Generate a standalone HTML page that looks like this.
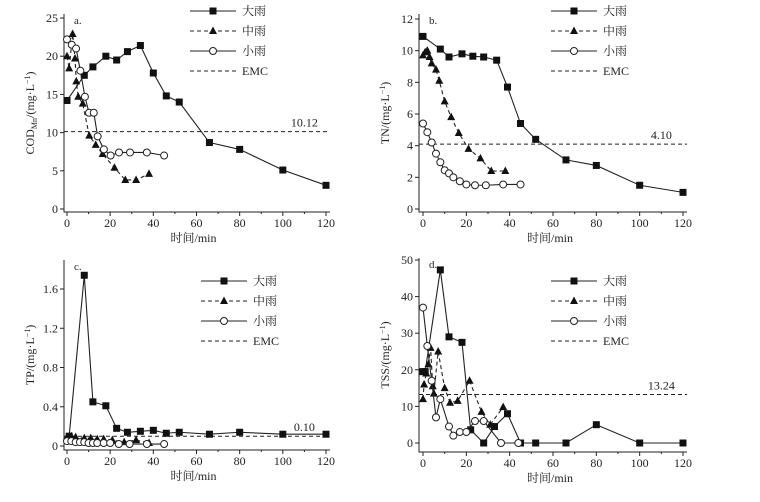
<!DOCTYPE html>
<html><head><meta charset="utf-8"><style>
body{margin:0;background:#fff}
svg text{font-family:"Liberation Serif","Noto Serif CJK SC",serif;fill:#222}
</style></head><body>
<svg id="c" width="760" height="497" viewBox="0 0 760 497"></svg>
<script>
const timeTicks=[0,20,40,60,80,100,120];
const heavyA_x=[0,8,12,18,23,28,34,40,46,52,66,80,100,120];
const heavyA_y=[14.2,17.5,18.6,20,19.5,20.6,21.4,17.8,14.8,14,8.7,7.8,5.1,3.1];
const modA_x=[0,1,2.6,3.7,4.3,5.2,7.3,10.3,13.3,16.5,22,27,32,38];
const modA_y=[20,18.4,22.9,19.7,16.7,14.7,13.8,9.6,8.4,7.2,5.4,3.8,3.8,4.6];
const lightA_x=[0,2.2,4.2,6.2,8.3,10.2,12.4,14.2,17.1,20.2,24.1,29.2,37,45];
const lightA_y=[22.2,21.5,21,18.1,14.7,12.6,12.6,9.5,7.8,7,7.4,7.4,7.4,7];
const heavyB_x=[0,8,12,18,23,28,34,39,45,52,66,80,100,120];
const heavyB_y=[10.9,10.1,9.6,9.8,9.65,9.6,9.4,7.7,5.4,4.4,3.1,2.75,1.5,1.05];
const modB_x=[0,1,2,3,4,6,7.5,10,13,16.5,21,26.5,31.5,38];
const modB_y=[9.7,9.9,10,9.6,9.2,8.8,8.1,6.8,5.8,4.8,3.8,3.2,2.4,2.4];
const lightB_x=[0,2,4,6,8,10,12,14,17,20,24,29,37,45];
const lightB_y=[5.4,4.85,4.2,3.5,2.95,2.45,2.25,2,1.75,1.55,1.5,1.5,1.55,1.55];
const heavyC_x=[1,8,12,18,23,28,34,40,46,52,66,80,100,120];
const heavyC_y=[0.1,1.74,0.45,0.41,0.18,0.14,0.15,0.16,0.13,0.14,0.12,0.14,0.12,0.12];
const modC_x=[0,2,4,8,11,14,17,21,26.5,32,38];
const modC_y=[0.09,0.1,0.09,0.08,0.08,0.07,0.07,0.06,0.04,0.06,0.03];
const lightC_x=[0,2,4,6,8,10,12,14,17,20,24,29,37,45];
const lightC_y=[0.05,0.05,0.04,0.04,0.04,0.03,0.03,0.03,0.03,0.03,0.02,0.02,0.02,0.02];
const heavyD_x=[0,1,8,12,18,22,28,33,39,45,52,66,80,100,120];
const heavyD_y=[19.5,19.5,47.3,29,27.5,3.6,0,4.5,8,0,0,0,5,0,0];
const modD_x=[0,0.5,1.5,2.5,3.5,4.5,5,7,10,12.5,16,21.5,27,31,37];
const modD_y=[12,16,19,21.5,26,15.5,13.5,25,15,11,11.5,17,8.5,5,9.8];
const lightD_x=[0,2,4,6,8,12,14,17,20,24,28,36,44];
const lightD_y=[37,26.5,17,7,12,4.5,2,3,3,6,6,0,0];
const emc=[10.12,4.10,0.10,13.24];
const emcLabels=["10.12","4.10","0.10","13.24"];
const yTicksA=[0,5,10,15,20,25],yTicksB=[0,2,4,6,8,10,12],yTicksC=[0,0.4,0.8,1.2,1.6],yTicksD=[0,10,20,30,40,50];
const legendNames=["大雨","中雨","小雨","EMC"];

const svg=document.getElementById('c');const NS="http://www.w3.org/2000/svg";
function el(t,a,p){const e=document.createElementNS(NS,t);for(const k in a)e.setAttribute(k,a[k]);(p||svg).appendChild(e);return e;}
function panel(cfg){
 const g=el('g',{});
 
 
 const X=v=>cfg.x0+(v/120)*(cfg.x1-cfg.x0);
 const Y=v=>cfg.y0+(v/cfg.ymax)*(cfg.yTop-cfg.y0);
 const ax=el('path',{d:`M${cfg.axX},${cfg.top} V${cfg.axY} H${cfg.x1+4}`,stroke:'#222',fill:'none','stroke-width':1},g);
 
 cfg.yt.forEach(v=>{el('line',{x1:cfg.axX-4,x2:cfg.axX,y1:Y(v),y2:Y(v),stroke:'#222'},g);
  const t=el('text',{x:cfg.axX-6,y:Y(v)+4,'text-anchor':'end','font-size':12},g);t.textContent=v;
  });
 for(let m=0;m<=120;m+=10){el('line',{x1:X(m),x2:X(m),y1:cfg.axY,y2:cfg.axY+(m%20?2:4),stroke:'#222'},g);}
 timeTicks.forEach(v=>{const t=el('text',{x:X(v),y:cfg.axY+15,'text-anchor':'middle','font-size':12},g);t.textContent=v;
  });
 const xt=el('text',{x:(cfg.x0+cfg.x1)/2-3,y:cfg.axY+30,'text-anchor':'middle','font-size':12},g);xt.textContent='时间/min';
 
 const yt=el('text',{transform:`translate(${cfg.axX-30},${(cfg.top+cfg.axY)/2}) rotate(-90)`,'text-anchor':'middle','font-size':12},g);
 yt.innerHTML=cfg.ylab;
 const pl=el('text',{x:cfg.axX+10,y:cfg.top+10,'font-size':11},g);pl.textContent=cfg.letter;
 
 const e=el('line',{x1:cfg.axX,x2:cfg.x1+4,y1:Y(cfg.emc),y2:Y(cfg.emc),stroke:'#222','stroke-dasharray':'4,3'},g);
 
 const el2=el('text',{x:X(110),y:Y(cfg.emc)-5,'text-anchor':'middle','font-size':12},g);el2.textContent=cfg.emcLab;
 
 function marker(kind,x,y,par){
  if(kind==0)return el('rect',{x:x-3.5,y:y-3.5,width:7,height:7,fill:'#111'},par);
  if(kind==1)return el('path',{d:`M${x},${y-4.5} L${x+4},${y+3} L${x-4},${y+3}Z`,fill:'#111'},par);
  return el('circle',{cx:x,cy:y,r:3.5,fill:'#fff',stroke:'#222'},par);
 }
 cfg.series.forEach((s,k)=>{
  const sg=el('g',{},g);
  
  
  const pts=s[0].map((v,i)=>X(v)+','+Y(s[1][i])).join(' ');
  el('polyline',{points:pts,fill:'none',stroke:'#222','stroke-width':1.1,'stroke-dasharray':k==1?'4,3':'none'},sg);
  s[0].forEach((v,i)=>{const m=marker(k,X(v),Y(s[1][i]),sg);
   });
 });
 const lg=el('g',{},g);
 legendNames.forEach((n,k)=>{const yy=cfg.ly+k*20;
  el('line',{x1:cfg.lx,x2:cfg.lx+46,y1:yy,y2:yy,stroke:'#222','stroke-dasharray':(k==1||k==3)?'4,3':'none'},lg);
  if(k<3)marker(k,cfg.lx+23,yy,lg);
  const t=el('text',{x:cfg.lx+52,y:yy+4,'font-size':12},lg);t.textContent=n;
  });
}
panel({name:'panel-a-codmn',x0:67,x1:326,y0:209,yTop:18,ymax:25,axX:64,axY:212,top:14,yt:yTicksA,letter:'a.',
 ylab:'COD<tspan font-size="8" dy="3">Mn</tspan><tspan dy="-3">/(mg·L</tspan><tspan font-size="8" dy="-4">−1</tspan><tspan dy="4">)</tspan>',
 emc:emc[0],emcLab:emcLabels[0],lx:190,ly:11,series:[[heavyA_x,heavyA_y],[modA_x,modA_y],[lightA_x,lightA_y]]});
panel({name:'panel-b-tn',x0:423,x1:683,y0:209,yTop:19,ymax:12,axX:419,axY:212,top:14,yt:yTicksB,letter:'b.',
 ylab:'TN/(mg·L<tspan font-size="8" dy="-4">−1</tspan><tspan dy="4">)</tspan>',
 emc:emc[1],emcLab:emcLabels[1],lx:551,ly:11,series:[[heavyB_x,heavyB_y],[modB_x,modB_y],[lightB_x,lightB_y]]});
panel({name:'panel-c-tp',x0:67,x1:326,y0:446,yTop:289,ymax:1.6,axX:64,axY:450,top:260,yt:yTicksC,letter:'c.',
 ylab:'TP/(mg·L<tspan font-size="8" dy="-4">−1</tspan><tspan dy="4">)</tspan>',
 emc:emc[2],emcLab:emcLabels[2],lx:201,ly:281,series:[[heavyC_x,heavyC_y],[modC_x,modC_y],[lightC_x,lightC_y]]});
panel({name:'panel-d-tss',x0:423,x1:683,y0:443,yTop:260,ymax:50,axX:419,axY:452,top:258,yt:yTicksD,letter:'d.',
 ylab:'TSS/(mg·L<tspan font-size="8" dy="-4">−1</tspan><tspan dy="4">)</tspan>',
 emc:emc[3],emcLab:emcLabels[3],lx:551,ly:281,series:[[heavyD_x,heavyD_y],[modD_x,modD_y],[lightD_x,lightD_y]]});
</script>
</body></html>
